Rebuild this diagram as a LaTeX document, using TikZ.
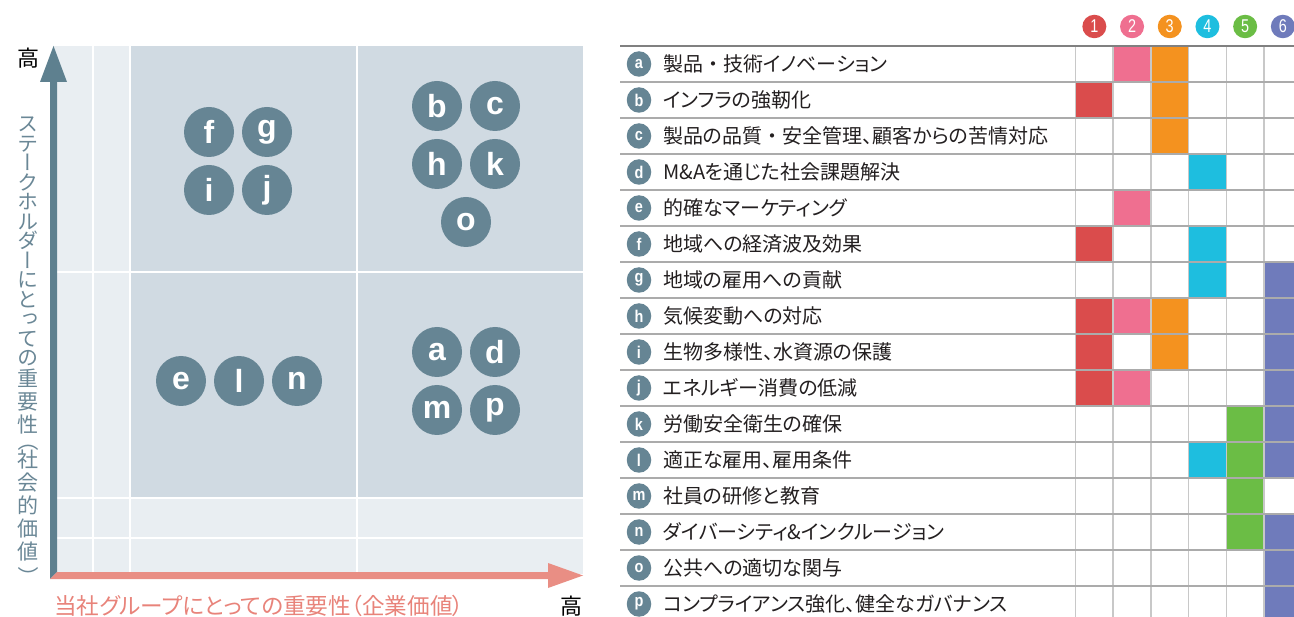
\documentclass[tikz,border=0pt]{standalone}
\usepackage{fontspec}
\setmainfont{Liberation Sans}
\newfontfamily\jp{Noto Sans CJK JP}
\newfontfamily\jpp[RawFeature=+palt]{Noto Sans CJK JP}
\newfontfamily\jph[RawFeature=+halt]{Noto Sans CJK JP}
\newfontfamily\vjp[RawFeature=+vert]{Noto Sans CJK JP}
\definecolor{slate}{HTML}{668594}
\definecolor{arrowslate}{HTML}{5E808F}
\definecolor{salmon}{HTML}{E98E84}
\definecolor{salmontext}{HTML}{E8837A}
\definecolor{darkbg}{HTML}{D0DAE2}
\definecolor{lightbg}{HTML}{E9EEF2}
\definecolor{vtext}{HTML}{6A8796}
\definecolor{ink}{HTML}{231F20}
\definecolor{cA}{HTML}{DA4C4C}
\definecolor{cB}{HTML}{EF6F90}
\definecolor{cC}{HTML}{F4921F}
\definecolor{cD}{HTML}{1EBEDF}
\definecolor{cE}{HTML}{6BBD45}
\definecolor{cF}{HTML}{6F7BBB}
\definecolor{hline}{HTML}{ABABAB}
\definecolor{vline}{HTML}{C8C8C8}
\definecolor{topline}{HTML}{808080}
\newcommand{\cellfill}[3]{%
  \fill[#3] (1075.5+37.7*#2-37.7,46+36*#1) rectangle ++(37.7,36);}
\newcommand{\nakaguro}{{\jp ・}}
\begin{document}
\begin{tikzpicture}[x=1pt,y=-1pt,
  bub/.style={circle, fill=slate, minimum size=50pt, inner sep=0pt, text=white,
    font=\fontsize{32}{32}\bfseries\selectfont},
  rowbub/.style={ellipse, fill=slate, minimum width=24.5pt, minimum height=25.5pt, inner sep=0pt, text=white,
    font=\fontsize{17}{17}\bfseries\selectfont},
  numbub/.style={ellipse, minimum width=24pt, minimum height=23.5pt, inner sep=0pt, text=white,
    font=\fontsize{18.5}{18.5}\selectfont},
  rowtext/.style={anchor=west, inner sep=0pt, text=ink, font=\jpp\fontsize{20}{22}\selectfont},
  vch/.style={inner sep=0pt, text=vtext, text height=0.88em, text depth=0.12em,
    font=\vjp\fontsize{21}{21}\selectfont},
  vpar/.style={inner sep=0pt, text=vtext, font=\jph\fontsize{21}{21}\selectfont},
  gridwhite/.style={white, line width=2pt},
  takai/.style={inner sep=0pt, text=black, font=\jp\fontsize{22}{22}\selectfont}
  ]
\usetikzlibrary{shapes.geometric}
\useasboundingbox (0,0) rectangle (1294,617);
\clip (0,0) rectangle (1294,617);
% ---------- left chart background ----------
\fill[lightbg] (53,46) rectangle (583,574);
\fill[darkbg] (130,46) rectangle (583,498);
\draw[gridwhite] (93,46) -- (93,574);
\draw[gridwhite] (130,46) -- (130,574);
\draw[gridwhite] (357,46) -- (357,574);
\draw[gridwhite] (53,272) -- (583,272);
\draw[gridwhite] (53,498) -- (583,498);
\draw[gridwhite] (53,538) -- (583,538);
% ---------- axes ----------
\fill[arrowslate] (50,579) -- (50,82) -- (57,82) -- (57,572) -- cycle;
\fill[arrowslate] (40,82) -- (67,82) -- (53.5,46) -- cycle;
\fill[salmon] (50,579) -- (57,572) -- (548,572) -- (548,579) -- cycle;
\fill[salmon] (548,563) -- (548,588) -- (583,575.5) -- cycle;
\node[takai] (hiY) at (28,58) {高};
\node[takai] (hiX) at (571,606) {高};
\node[anchor=west, inner sep=0pt, text=salmontext, font=\jpp\fontsize{22.6}{22.6}\selectfont]
  (xlabel) at (54,606) {当社グループにとっての重要性（企業価値）};
\foreach \ch/\yy [count=\i] in {ス/127.75,テ/147.25,ー/166.75,ク/186.25,ホ/205.75,ル/225.25,
    ダ/244.75,ー/264.25,に/283.75,と/303.25,っ/322.75,て/342.25,の/361.75,
    重/383,要/406,性/429,社/464,会/487,的/510,価/533,値/556}
  \node[vch] (yl\i) at (28,\yy) {\ch};
\node[vpar] (ylopen) at (28,446.5) {\rotatebox{-90}{（}};
\node[vpar] (ylclose) at (28,572) {\rotatebox{-90}{）}};
% ---------- bubbles ----------
\node[bub] (Bf) at (209,132) {f};
\node[bub] (Bg) at (267,132) {g};
\node[bub] (Bi) at (209,190) {i};
\node[bub] (Bj) at (267,190) {j};
\node[bub] (Bb) at (437,106) {b};
\node[bub] (Bc) at (495,106) {c};
\node[bub] (Bh) at (437,164) {h};
\node[bub] (Bk) at (495,164) {k};
\node[bub] (Bo) at (466,222) {o};
\node[bub] (Be) at (181,381) {e};
\node[bub] (Bl) at (239,381) {l};
\node[bub] (Bn) at (297,381) {n};
\node[bub] (Ba) at (437,352) {a};
\node[bub] (Bd) at (495,352) {d};
\node[bub] (Bm) at (437,410) {m};
\node[bub] (Bp) at (495,410) {p};
% ---------- table cell fills ----------
\cellfill{0}{2}{cB}\cellfill{0}{3}{cC}
\cellfill{1}{1}{cA}\cellfill{1}{3}{cC}
\cellfill{2}{3}{cC}
\cellfill{3}{4}{cD}
\cellfill{4}{2}{cB}
\cellfill{5}{1}{cA}\cellfill{5}{4}{cD}
\cellfill{6}{4}{cD}\cellfill{6}{6}{cF}
\cellfill{7}{1}{cA}\cellfill{7}{2}{cB}\cellfill{7}{3}{cC}\cellfill{7}{6}{cF}
\cellfill{8}{1}{cA}\cellfill{8}{3}{cC}\cellfill{8}{6}{cF}
\cellfill{9}{1}{cA}\cellfill{9}{2}{cB}\cellfill{9}{6}{cF}
\cellfill{10}{5}{cE}\cellfill{10}{6}{cF}
\cellfill{11}{4}{cD}\cellfill{11}{5}{cE}\cellfill{11}{6}{cF}
\cellfill{12}{5}{cE}
\cellfill{13}{5}{cE}\cellfill{13}{6}{cF}
\cellfill{14}{6}{cF}
\cellfill{15}{6}{cF}
% ---------- table grid ----------
\foreach \k in {0,...,6}
  \draw[vline, line width=1.5pt] ({1075.5+37.7*\k},46) -- ({1075.5+37.7*\k},617);
\foreach \r in {1,...,16}
  \draw[hline, line width=1.5pt] (620,{46+36*\r}) -- (1294,{46+36*\r});
\draw[topline, line width=2pt] (620,46) -- (1294,46);
% ---------- header numbers ----------
\foreach \n/\c in {1/cA,2/cB,3/cC,4/cD,5/cE,6/cF}
  \node[numbub, fill=\c] (N\n) at ({1094.35+37.7*(\n-1)},26.5) {\scalebox{0.78}[1]{\n}};
% ---------- rows ----------
\foreach \l/\t [count=\i from 0] in {
  a/製品\nakaguro 技術イノベーション,
  b/インフラの強靭化,
  c/製品の品質\nakaguro 安全管理、顧客からの苦情対応,
  d/M\&Aを通じた社会課題解決,
  e/的確なマーケティング,
  f/地域への経済波及効果,
  g/地域の雇用への貢献,
  h/気候変動への対応,
  i/生物多様性、水資源の保護,
  j/エネルギー消費の低減,
  k/労働安全衛生の確保,
  l/適正な雇用、雇用条件,
  m/社員の研修と教育,
  n/ダイバーシティ\&インクルージョン,
  o/公共への適切な関与,
  p/コンプライアンス強化、健全なガバナンス}
{
  \node[rowbub] (R\l) at (639,{46+36*\i+18}) {\scalebox{0.85}[1]{\l}};
  \node[rowtext] (T\l) at (663,{46+36*\i+18}) {\t};
}
\end{tikzpicture}
\end{document}
